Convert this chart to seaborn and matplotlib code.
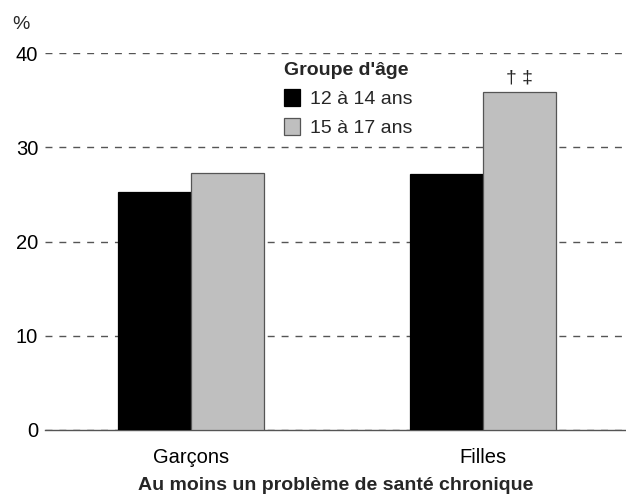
import matplotlib
matplotlib.use("Agg")
import matplotlib.pyplot as plt
from matplotlib.patches import Patch
import seaborn as sns
import pandas as pd

# data
sexes = ["Garçons", "Filles"]
age_groups = ["12 à 14 ans", "15 à 17 ans"]
pct_12_14 = [25.3, 27.2]
pct_15_17 = [27.3, 35.9]
colors = ["#000000", "#bfbfbf"]

df = pd.DataFrame({
    "sexe": sexes * 2,
    "groupe": [age_groups[0]] * 2 + [age_groups[1]] * 2,
    "pct": pct_12_14 + pct_15_17,
})

sns.set_style("white")
plt.rcParams["font.family"] = ["Liberation Sans", "DejaVu Sans"]

fig = plt.figure(figsize=(6.26, 4.97), dpi=100)
ax = fig.add_axes([0.072, 0.135, 0.928, 0.758])

sns.barplot(data=df, x="sexe", y="pct", hue="groupe", order=sexes,
            hue_order=age_groups, palette=colors, width=0.5, saturation=1,
            errorbar=None, legend=False, ax=ax, zorder=3)

for p in ax.patches:
    if p.get_facecolor()[0] > 0.5:
        p.set_edgecolor("#555555")
    else:
        p.set_edgecolor("#000000")
    p.set_linewidth(0.9)

ax.set_ylim(0, 40)
ax.set_xlim(-0.5, 1.49)
ax.set_yticks([0, 10, 20, 30, 40])
ax.yaxis.grid(True, linestyle=(0, (5, 5)), color="#555555", linewidth=1)
ax.set_axisbelow(True)
for s in ["top", "right", "left"]:
    ax.spines[s].set_visible(False)
ax.spines["bottom"].set_color("#555555")
ax.spines["bottom"].set_linewidth(1)
ax.tick_params(axis="both", length=0, labelsize=14.5, colors="#000000")
ax.tick_params(axis="x", pad=13)
ax.tick_params(axis="y", pad=5)
ax.set_ylabel("")
ax.set_xlabel("Au moins un problème de santé chronique", fontsize=14,
              fontweight="bold", labelpad=7)

fig.text(0.02, 0.95, "%", fontsize=14, ha="left", va="center")

# significance marks over the girls 15-17 bar
ax.text(1.125, 35.9 + 0.6, "† ‡", fontsize=14, ha="center", va="bottom")

handles = [Patch(facecolor=colors[0], edgecolor="#000000", linewidth=0.9),
           Patch(facecolor=colors[1], edgecolor="#555555", linewidth=0.9)]
leg = fig.legend(handles, age_groups, title="Groupe d'âge", loc="upper left",
                 bbox_to_anchor=(0.425, 0.91), frameon=False, fontsize=14,
                 handlelength=0.85, handleheight=1.0, handletextpad=0.5,
                 labelspacing=0.5, alignment="left")
leg.get_title().set_fontweight("bold")
leg.get_title().set_fontsize(14)

fig.savefig("out.png", dpi=100)
